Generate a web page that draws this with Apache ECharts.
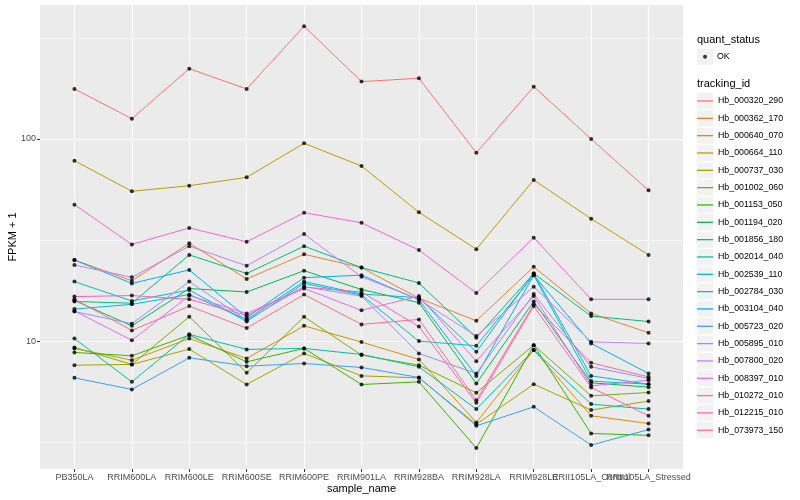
<!DOCTYPE html>
<html><head><meta charset="utf-8">
<script src="https://cdn.jsdelivr.net/npm/echarts@6/dist/echarts.min.js"></script>
<style>html,body{margin:0;padding:0;background:#fff}#c{width:800px;height:500px}</style>
</head><body><div id="c"></div>
<script>
const categories = ['PB350LA','RRIM600LA','RRIM600LE','RRIM600SE','RRIM600PE','RRIM901LA','RRIM928BA','RRIM928LA','RRIM928LE','RRII105LA_Control','RRII105LA_Stressed'];

const Hb_000320_290 = [176.8, 126.0, 222.8, 176.8, 361.4, 192.2, 199.7, 85.5, 181.5, 100.0, 55.7];
const Hb_000362_170 = [25.2, 19.9, 30.5, 20.3, 26.9, 23.1, 16.3, 12.6, 23.3, 13.7, 11.0];
const Hb_000640_070 = [9.20, 8.05, 10.3, 8.21, 11.9, 9.89, 8.12, 3.96, 9.03, 4.27, 3.91];
const Hb_000664_110 = [78.1, 55.1, 58.7, 64.6, 95.2, 73.5, 43.4, 28.5, 62.7, 40.3, 26.7];
const Hb_000737_030 = [7.60, 7.67, 9.13, 6.10, 8.69, 6.73, 6.58, 3.88, 6.12, 4.56, 5.05];
const Hb_001002_060 = [9.31, 7.67, 13.2, 6.97, 13.2, 8.53, 7.60, 5.55, 9.55, 5.36, 5.57];
const Hb_001153_050 = [8.79, 8.46, 10.7, 7.90, 9.20, 6.10, 6.29, 2.96, 9.55, 3.49, 3.42];
const Hb_001194_020 = [15.9, 11.9, 18.2, 17.5, 22.3, 18.0, 15.5, 6.17, 15.7, 6.22, 5.92];
const Hb_001856_180 = [15.7, 15.4, 26.7, 21.6, 29.5, 23.1, 19.4, 10.4, 21.6, 13.3, 12.5];
const Hb_002014_040 = [10.3, 6.29, 10.8, 9.10, 9.20, 8.59, 7.46, 4.61, 9.03, 4.88, 4.61];
const Hb_002539_110 = [19.7, 15.8, 17.9, 12.5, 19.3, 16.9, 10.0, 9.48, 21.2, 6.34, 6.12];
const Hb_002784_030 = [14.4, 15.2, 17.0, 12.8, 19.7, 17.1, 16.4, 8.85, 21.6, 6.73, 6.12];
const Hb_003104_040 = [25.2, 19.3, 22.5, 13.1, 20.6, 21.2, 16.0, 6.73, 21.2, 9.74, 6.92];
const Hb_005723_020 = [6.58, 5.77, 8.27, 7.52, 7.75, 7.41, 6.61, 3.81, 4.73, 3.06, 3.65];
const Hb_005895_010 = [14.0, 12.2, 19.7, 12.7, 18.6, 16.7, 8.69, 6.92, 17.1, 7.46, 6.54];
const Hb_007800_020 = [23.8, 20.7, 29.5, 23.6, 33.9, 20.8, 16.1, 10.6, 18.6, 9.92, 9.74];
const Hb_008397_010 = [14.1, 10.1, 16.8, 13.7, 18.2, 14.2, 16.7, 7.96, 16.7, 6.01, 6.41];
const Hb_010272_010 = [47.3, 30.1, 36.3, 31.0, 43.2, 38.5, 28.2, 17.3, 32.5, 16.1, 16.1];
const Hb_012215_010 = [16.6, 16.8, 16.1, 13.4, 18.5, 17.5, 11.8, 4.95, 14.9, 5.90, 4.27];
const Hb_073973_150 = [16.1, 11.3, 14.9, 11.6, 17.0, 12.1, 12.8, 5.10, 15.2, 7.81, 6.66];

const trackingIds = ['Hb_000320_290','Hb_000362_170','Hb_000640_070','Hb_000664_110','Hb_000737_030','Hb_001002_060','Hb_001153_050','Hb_001194_020','Hb_001856_180','Hb_002014_040','Hb_002539_110','Hb_002784_030','Hb_003104_040','Hb_005723_020','Hb_005895_010','Hb_007800_020','Hb_008397_010','Hb_010272_010','Hb_012215_010','Hb_073973_150'];
const seriesValues = [Hb_000320_290,Hb_000362_170,Hb_000640_070,Hb_000664_110,Hb_000737_030,Hb_001002_060,Hb_001153_050,Hb_001194_020,Hb_001856_180,Hb_002014_040,Hb_002539_110,Hb_002784_030,Hb_003104_040,Hb_005723_020,Hb_005895_010,Hb_007800_020,Hb_008397_010,Hb_010272_010,Hb_012215_010,Hb_073973_150];
const colors = ['#F8766D','#EA8331','#D89000','#C09B00','#A3A500','#7CAE00','#39B600','#00BB4E','#00BF7D','#00C1A3','#00BFC4','#00BAE0','#00B0F6','#35A2FF','#9590FF','#C77CFF','#E76BF3','#FA62DB','#FF62BC','#FF6C91'];
const quantStatus = 'OK';
const yTicks = [10, 100];
const yMin = 2.33, yMax = 460;

const FONT = '"Liberation Sans", Arial, Helvetica, sans-serif';
const chart = echarts.init(document.getElementById('c'));
const idx = categories.map((_, i) => i);
// first and last entries duplicated: ECharts' min/max label check drops them, keeping every real label
const xTickValues = [0].concat(idx, [idx.length - 1]);

const series = trackingIds.map((id, k) => ({
  name: id, type: 'line',
  data: seriesValues[k].map((v, i) => [i, v]),
  showSymbol: false, symbol: 'none',
  lineStyle: {width: 1, color: colors[k]},
  itemStyle: {color: colors[k]},
  emphasis: {disabled: true},
  z: 2, animation: false
}));
series.push({
  name: quantStatus, type: 'scatter',
  data: [].concat(...seriesValues.map(arr => arr.map((v, i) => [i, v]))),
  symbol: 'circle', symbolSize: 4,
  itemStyle: {color: '#000'},
  emphasis: {disabled: true},
  z: 3, animation: false
});

const keyBg = [];
keyBg.push({type: 'rect', left: 697, top: 48.7, shape: {width: 16, height: 16}, style: {fill: '#F2F2F2'}, z: -10, silent: true});
trackingIds.forEach((_, i) => keyBg.push({type: 'rect', left: 697, top: 93 + i * 17.33, shape: {width: 16, height: 16}, style: {fill: '#F2F2F2'}, z: -10, silent: true}));

chart.setOption({
  animation: false,
  backgroundColor: '#fff',
  textStyle: {fontFamily: FONT},
  title: [
    {text: 'quant_status', left: 697, top: 34, padding: 0, textStyle: {fontSize: 11, fontWeight: 'normal', color: '#000', fontFamily: FONT}},
    {text: 'tracking_id', left: 697, top: 78, padding: 0, textStyle: {fontSize: 11, fontWeight: 'normal', color: '#000', fontFamily: FONT}}
  ],
  graphic: keyBg,
  grid: {left: 40, right: 117, top: 5, bottom: 31, show: true, backgroundColor: '#EBEBEB', borderWidth: 0, containLabel: false, outerBoundsMode: 'none'},
  legend: [
    {data: [quantStatus], left: 703, top: 48.7, orient: 'vertical', icon: 'circle', itemWidth: 4, itemHeight: 4, padding: 0,
     selectedMode: false, itemStyle: {borderWidth: 0},
     textStyle: {fontSize: 8.8, color: '#000', lineHeight: 16, padding: [0, 0, 0, 5], fontFamily: FONT}},
    {data: trackingIds, left: 697, top: 93, orient: 'vertical', icon: 'rect', itemWidth: 16, itemHeight: 1.3, itemGap: 1.33, padding: 0,
     selectedMode: false, itemStyle: {borderWidth: 0},
     textStyle: {fontSize: 8.8, color: '#000', lineHeight: 16, fontFamily: FONT}}
  ],
  xAxis: {
    type: 'value', min: -0.6, max: 10.6, splitNumber: 11,
    name: 'sample_name', nameLocation: 'middle', nameGap: 14, nameMoveOverlap: false,
    nameTextStyle: {fontSize: 11, color: '#000', fontFamily: FONT},
    axisLine: {show: false, onZero: false},
    axisTick: {show: true, customValues: xTickValues, length: 3, lineStyle: {color: '#333', width: 1}},
    axisLabel: {customValues: xTickValues, formatter: v => categories[Math.round(v)], color: '#4D4D4D', fontSize: 9, margin: 4, fontFamily: FONT,
                hideOverlap: false, showMinLabel: false, showMaxLabel: false},
    splitLine: {show: true, lineStyle: {color: '#fff', width: 1.1}}
  },
  yAxis: [
    {type: 'log', logBase: 10, min: yMin, max: yMax,
     name: 'FPKM + 1', nameLocation: 'middle', nameGap: 22, nameRotate: 90, nameMoveOverlap: false,
     nameTextStyle: {fontSize: 11, color: '#000', fontFamily: FONT},
     axisLine: {show: false, onZero: false},
     axisTick: {show: true, customValues: yTicks, length: 3, lineStyle: {color: '#333', width: 1}},
     axisLabel: {customValues: yTicks, formatter: v => String(Math.round(v)), color: '#4D4D4D', fontSize: 9, margin: 4, fontFamily: FONT,
                 showMinLabel: true, showMaxLabel: true},
     splitLine: {show: true, lineStyle: {color: '#fff', width: 1.1}}
    },
    {type: 'value', min: Math.log10(yMin), max: Math.log10(yMax), splitNumber: 2, position: 'left',
     axisLine: {show: false, onZero: false}, axisTick: {show: false}, axisLabel: {show: false},
     splitLine: {show: false},
     minorTick: {show: false, splitNumber: 2},
     minorSplitLine: {show: true, lineStyle: {color: '#fff', width: 0.55}}
    }
  ],
  series: series
});
</script></body></html>
